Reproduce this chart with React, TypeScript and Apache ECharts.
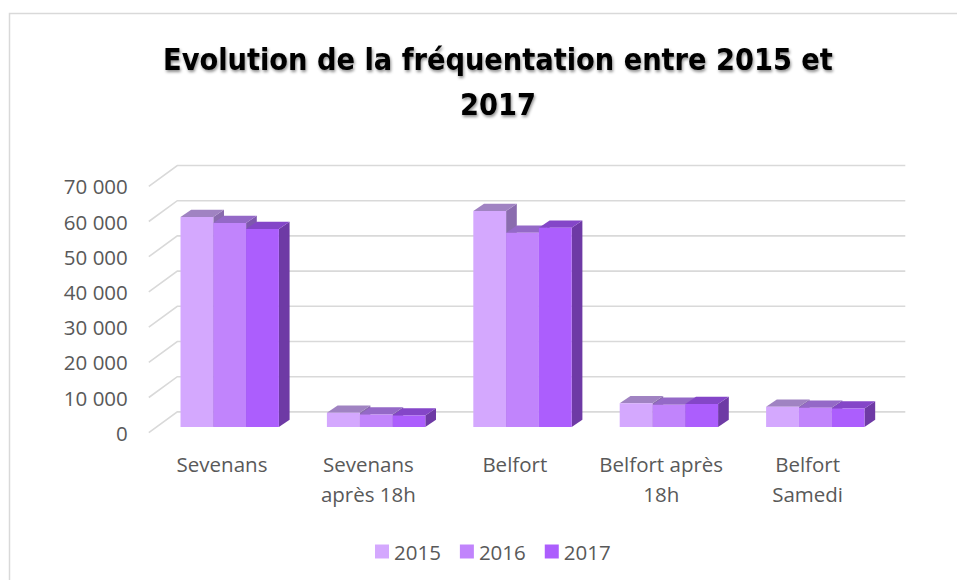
import React, { useEffect, useRef } from "react";
import * as echarts from "echarts";

const TITLE = "Evolution de la fréquentation entre 2015 et\n2017";
const categories = [
  "Sevenans",
  "Sevenans après 18h",
  "Belfort",
  "Belfort après 18h",
  "Belfort Samedi",
];
// where each category label wraps onto a second line
const labelLines = [
  ["Sevenans"],
  ["Sevenans", "après 18h"],
  ["Belfort"],
  ["Belfort après", "18h"],
  ["Belfort", "Samedi"],
];
const seriesNames = ["2015", "2016", "2017"];
const values2015 = [59700, 4050, 61400, 6750, 5770];
const values2016 = [58000, 3600, 55200, 6350, 5480];
const values2017 = [56250, 3300, 56600, 6530, 5300];
const yTicks = [0, 10000, 20000, 30000, 40000, 50000, 60000, 70000];

const FRONT = ["#D4A8FE", "#C184FC", "#AC5EFD"];
const TOP = ["#A083C2", "#9469C7", "#8446C8"];
const SIDE = ["#8A6CAE", "#7E57AE", "#6E3AA5"];

// 3D projection constants (pixels)
const DEPTH_X = 28.5;
const DEPTH_Y = -20.8;
const BAR_OFF_X = 7.7;
const BAR_OFF_Y = -5.6;
const BAR_DX = 10.7;
const BAR_DY = -7.3;
const BAR_FRAC = 0.224;

const FONT = "'Open Sans', 'Noto Sans', sans-serif";
const TITLE_FONT = "'DejaVu Sans Condensed', sans-serif";

export default function App() {
  const ref = useRef<HTMLDivElement>(null);
  useEffect(() => {
    if (!ref.current) return;
    const chart = echarts.init(ref.current, null, { renderer: "svg" });
    const allValues = [values2015, values2016, values2017];

    const barSeries = allValues.map((vals, sIdx) => ({
      name: seriesNames[sIdx],
      type: "custom",
      clip: false,
      z: 3,
      itemStyle: { color: FRONT[sIdx] },
      data: vals.map((v, i) => [i, v]),
      renderItem: (params: any, api: any) => {
        const ci = api.value(0);
        const v = api.value(1);
        const base = api.coord([ci, 0]);
        const top = api.coord([ci, v]);
        const cw = api.size([1, 0])[0];
        const bw = cw * BAR_FRAC;
        const x0 = base[0] - 1.5 * bw + sIdx * bw + BAR_OFF_X;
        const y0 = base[1] + BAR_OFF_Y;
        const y1 = top[1] + BAR_OFF_Y;
        return {
          type: "group",
          children: [
            {
              type: "polygon",
              shape: {
                points: [
                  [x0 + bw, y1],
                  [x0 + bw + BAR_DX, y1 + BAR_DY],
                  [x0 + bw + BAR_DX, y0 + BAR_DY],
                  [x0 + bw, y0],
                ],
              },
              style: { fill: SIDE[sIdx] },
            },
            {
              type: "polygon",
              shape: {
                points: [
                  [x0, y1],
                  [x0 + bw, y1],
                  [x0 + bw + BAR_DX, y1 + BAR_DY],
                  [x0 + BAR_DX, y1 + BAR_DY],
                ],
              },
              style: { fill: TOP[sIdx] },
            },
            {
              type: "rect",
              shape: { x: x0, y: y1, width: bw, height: y0 - y1 },
              style: { fill: FRONT[sIdx] },
            },
          ],
        };
      },
    }));

    const gridSeries = {
      name: "grid",
      type: "custom",
      clip: false,
      silent: true,
      z: 1,
      data: yTicks.map((t) => [0, t]),
      renderItem: (params: any, api: any) => {
        const cs = params.coordSys;
        const y = api.coord([0, api.value(1)])[1];
        return {
          type: "polyline",
          shape: {
            points: [
              [cs.x, y],
              [cs.x + DEPTH_X, y + DEPTH_Y],
              [cs.x + cs.width + DEPTH_X - 4, y + DEPTH_Y],
            ],
          },
          style: { stroke: "#D9D9D9", lineWidth: 1.6, fill: "none" },
        };
      },
    };

    chart.setOption({
      animation: false,
      backgroundColor: "#ffffff",
      title: {
        text: TITLE,
        left: 493,
        top: 32,
        textAlign: "center",
        textStyle: {
          fontFamily: TITLE_FONT,
          fontWeight: "bold",
          fontSize: 30.3,
          lineHeight: 45,
          color: "#000000",
          textShadowColor: "rgba(0,0,0,0.45)",
          textShadowBlur: 3,
          textShadowOffsetX: 1,
          textShadowOffsetY: 2,
        },
      },
      legend: {
        data: seriesNames,
        left: 370,
        top: 536,
        icon: "rect",
        itemWidth: 14,
        itemHeight: 14,
        itemGap: 19,
        textStyle: { fontFamily: FONT, fontSize: 20.5, color: "#595959" },
      },
      grid: {
        left: 148.8,
        top: 186.3,
        width: 732,
        height: 246.4,
        containLabel: false,
      },
      xAxis: {
        type: "category",
        data: categories,
        axisLine: { show: false },
        axisTick: { show: false },
        splitLine: { show: false },
        axisLabel: {
          interval: 0,
          margin: 16,
          fontFamily: FONT,
          fontSize: 20.5,
          lineHeight: 30,
          color: "#595959",
          formatter: (name: string) =>
            labelLines[categories.indexOf(name)].join("\n"),
        },
      },
      yAxis: {
        type: "value",
        min: 0,
        max: 70000,
        interval: 10000,
        axisLine: { show: false },
        axisTick: { show: false },
        splitLine: { show: false },
        axisLabel: {
          margin: 21,
          fontFamily: FONT,
          fontSize: 20.5,
          color: "#595959",
          formatter: (v: number) =>
            String(v).replace(/\B(?=(\d{3})+(?!\d))/g, " "),
        },
      },
      graphic: [
        {
          type: "rect",
          z: -10,
          silent: true,
          shape: { x: 9.5, y: 13.5, width: 1000, height: 700 },
          style: { fill: "none", stroke: "#D9D9D9", lineWidth: 1.5 },
        },
      ],
      series: [gridSeries, ...barSeries],
    });
    return () => chart.dispose();
  }, []);
  return (
    <div
      ref={ref}
      style={{ position: "absolute", left: 0, top: 0, width: 957, height: 580 }}
    />
  );
}
